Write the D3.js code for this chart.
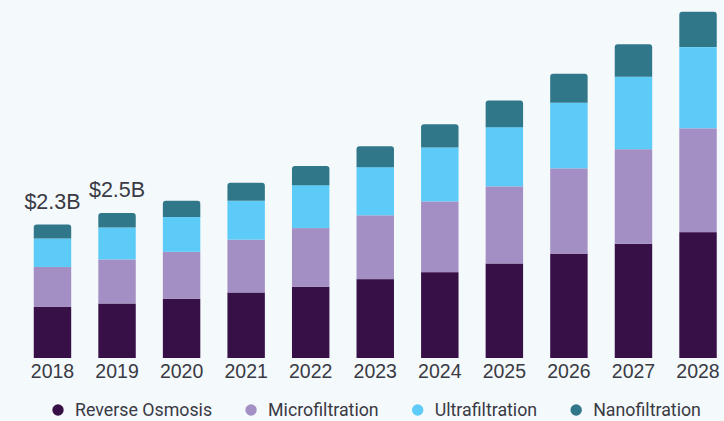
<!DOCTYPE html>
<html>
<head>
<meta charset="utf-8">
<script src="https://cdn.jsdelivr.net/npm/d3@7"></script>
<style>
  html, body { margin: 0; padding: 0; background: #f4f9fc; }
  svg { display: block; }
</style>
</head>
<body>
<svg id="chart" width="724" height="421"></svg>
<script>
const years = ["2018","2019","2020","2021","2022","2023","2024","2025","2026","2027","2028"];
const reverseOsmosis  = [0.88, 0.94, 1.02, 1.13, 1.23, 1.36, 1.48, 1.63, 1.80, 1.97, 2.17];
const microfiltration = [0.69, 0.76, 0.81, 0.91, 1.01, 1.10, 1.22, 1.33, 1.47, 1.63, 1.79];
const ultrafiltration = [0.49, 0.55, 0.60, 0.67, 0.74, 0.83, 0.93, 1.02, 1.13, 1.25, 1.40];
const nanofiltration  = [0.24, 0.25, 0.28, 0.31, 0.33, 0.36, 0.40, 0.46, 0.50, 0.56, 0.61];
const seriesNames = ["Reverse Osmosis", "Microfiltration", "Ultrafiltration", "Nanofiltration"];
const seriesColors = ["#381048", "#a48fc4", "#5ccbf7", "#307789"];
const valueLabels = [{year: "2018", text: "$2.3B"}, {year: "2019", text: "$2.5B"}];

const svg = d3.select("#chart");
svg.append("rect").attr("width", 724).attr("height", 421).attr("fill", "#f4f9fc");

const table = years.map((y, i) => ({
  year: y,
  "Reverse Osmosis": reverseOsmosis[i],
  "Microfiltration": microfiltration[i],
  "Ultrafiltration": ultrafiltration[i],
  "Nanofiltration": nanofiltration[i]
}));
const stacked = d3.stack().keys(seriesNames)(table);

const x = d3.scaleBand().domain(years).range([20.2, 730.3]).paddingInner(0.42).paddingOuter(0.21);
const y = d3.scaleLinear().domain([0, 6]).range([358, 10]);
const color = d3.scaleOrdinal().domain(seriesNames).range(seriesColors);

const r = 3;
function topRounded(x0, y0, w, h) {
  const rr = Math.min(r, h);
  return `M${x0},${y0 + h} V${y0 + rr} Q${x0},${y0} ${x0 + rr},${y0} H${x0 + w - rr} Q${x0 + w},${y0} ${x0 + w},${y0 + rr} V${y0 + h} Z`;
}

const layers = svg.append("g").selectAll("g").data(stacked).join("g")
  .attr("fill", d => color(d.key));
layers.each(function(layer, li) {
  const g = d3.select(this);
  const isTop = li === stacked.length - 1;
  if (isTop) {
    g.selectAll("path").data(layer).join("path")
      .attr("d", d => topRounded(x(d.data.year), y(d[1]), x.bandwidth(), y(d[0]) - y(d[1])));
  } else {
    g.selectAll("rect").data(layer).join("rect")
      .attr("x", d => x(d.data.year))
      .attr("y", d => y(d[1]))
      .attr("width", x.bandwidth())
      .attr("height", d => y(d[0]) - y(d[1]));
  }
});

// value labels
const topLayer = stacked[stacked.length - 1];
svg.append("g").selectAll("text").data(valueLabels).join("text")
  .attr("x", d => x(d.year) + x.bandwidth() / 2)
  .attr("y", d => y(topLayer[years.indexOf(d.year)][1]) - 16)
  .attr("text-anchor", "middle")
  .attr("font-family", "'Liberation Sans', Arial, sans-serif")
  .attr("font-size", 21.5)
  .attr("fill", "#3a3a44")
  .text(d => d.text);

// x axis
const xAxis = svg.append("g").attr("transform", "translate(0,358)")
  .call(d3.axisBottom(x).tickSize(0).tickPadding(6.5));
xAxis.select(".domain").remove();
xAxis.selectAll("text")
  .attr("font-family", "'Liberation Sans', Arial, sans-serif")
  .attr("font-size", 19.5)
  .attr("fill", "#3a3a44");

// legend
const legend = svg.append("g");
let lx = 58;
seriesNames.forEach((name, i) => {
  const item = legend.append("g");
  item.append("circle").attr("cx", lx).attr("cy", 410).attr("r", 5.7).attr("fill", seriesColors[i]);
  const t = item.append("text").attr("x", lx + 17).attr("y", 416)
    .attr("font-family", "Roboto, sans-serif").attr("font-size", 17.8)
    .attr("fill", "#3a3a44").text(name);
  lx = lx + 17 + t.node().getComputedTextLength() + 39;
});
</script>
</body>
</html>
